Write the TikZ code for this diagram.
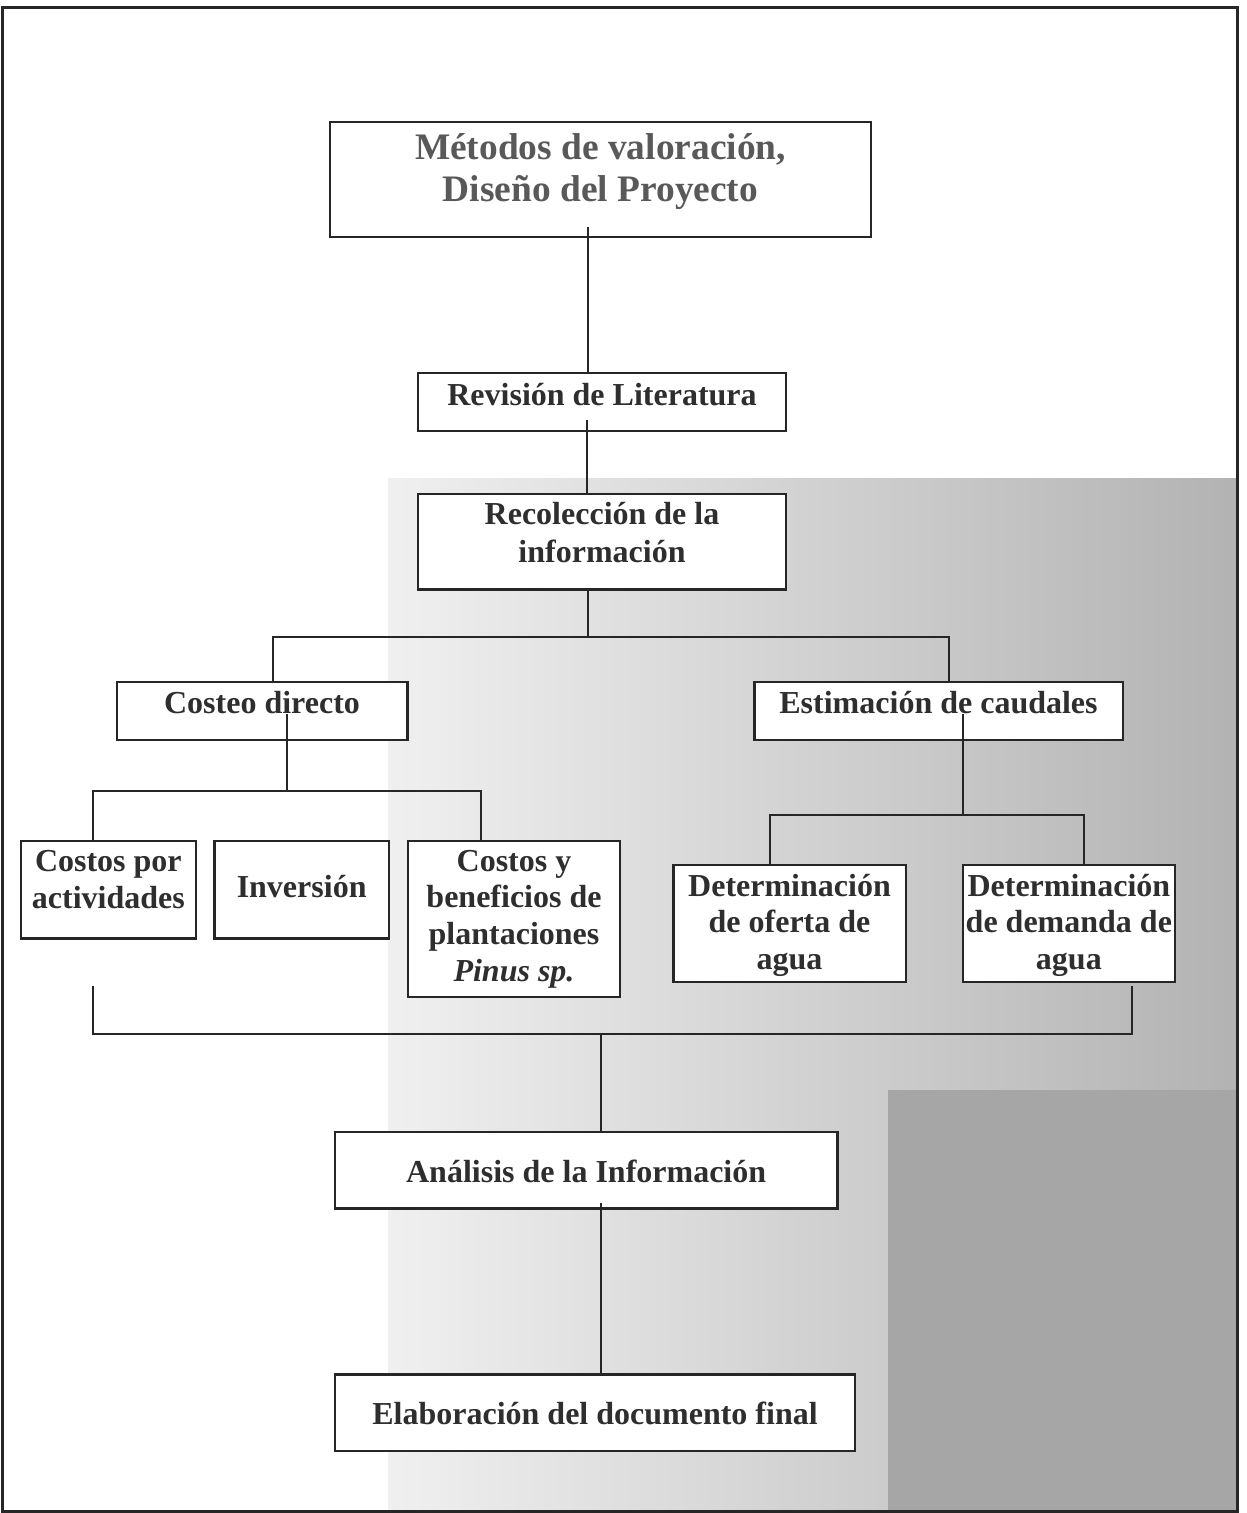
\documentclass[tikz,border=0pt]{standalone}
\usepackage{fontspec}
\setmainfont{Liberation Serif}
\newcommand\TS[1]{\rule{0pt}{#1}}
\newcommand\BS[1]{\rule[-#1]{0pt}{#1}}
\begin{document}
\begin{tikzpicture}[x=0.5pt,y=-0.5pt,
  box/.style={draw=black!85, line width=1.2pt, fill=white, anchor=north,
    inner xsep=0pt, inner ysep=0pt, align=center, text=black!82,
    font=\fontsize{16}{18.3}\selectfont\bfseries},
  conn/.style={draw=black!85, line width=1pt},
  pageframe/.style={draw=black!85, line width=1.5pt}]
\useasboundingbox (0,0) rectangle (1246,1513);
% scan shading
\shade[left color=black!6, right color=black!30] (388,478) rectangle (1237,1511);
\fill[black!35] (888,1090) rectangle (1237,1511);
\draw[pageframe] (2,8) rectangle (1237,1511);

% boxes
\node[box, minimum width=270.5pt, text=black!65,
  font=\fontsize{18.7}{20.85}\selectfont\bfseries] (met) at (600.5,121)
  {\TS{18.65pt}Métodos de valoración,\\Diseño del Proyecto\BS{18pt}};
\node[box, minimum width=184pt] (rev) at (602,372)
  {\TS{16pt}Revisión de Literatura\BS{13pt}};
\node[box, minimum width=184pt, font=\fontsize{16}{19.2}\selectfont\bfseries] (rec) at (602,492.7)
  {\TS{15.3pt}Recolección de la\\información\BS{13.3pt}};
\node[box, minimum width=145.3pt] (cos) at (262,681)
  {\TS{15.85pt}Costeo directo\BS{13.15pt}};
\node[box, minimum width=184.2pt] (est) at (938.5,681)
  {\TS{15.85pt}Estimación de caudales\BS{13.15pt}};
\node[box, minimum width=87.35pt] (cpa) at (108.35,840)
  {\TS{15.35pt}Costos por\\actividades\BS{15pt}};
\node[box, minimum width=87.35pt] (inv) at (301.65,840)
  {\TS{28pt}Inversión\BS{20.65pt}};
\node[box, minimum width=106pt] (cyb) at (514,840)
  {\TS{15pt}Costos y\\beneficios de\\plantaciones\\\textit{Pinus sp.}\BS{8pt}};
\node[box, minimum width=116.2pt] (dof) at (789.5,864)
  {\TS{15.5pt}Determinación\\de oferta de\\agua\BS{6.35pt}};
\node[box, minimum width=106.15pt] (ddm) at (1068.85,864)
  {\TS{15.5pt}Determinación\\de demanda de\\agua\BS{6.35pt}};
\node[box, minimum width=251.15pt] (ana) at (586.15,1131)
  {\TS{25pt}Análisis de la Información\BS{13.15pt}};
\node[box, minimum width=260pt] (ela) at (595,1373.3)
  {\TS{25pt}Elaboración del documento final\BS{13.35pt}};

% connectors
\coordinate (cm) at (587.7,226.7);
\draw[conn] (cm) -- (cm |- rev.north);
\coordinate (cr) at (587.3,420);
\draw[conn] (cr) -- (cr |- rec.north);
\coordinate (br) at (587.5,637.3);
\coordinate (b1) at (273.3,637.3);
\coordinate (b2) at (949.3,637.3);
\draw[conn] (br |- rec.south) -- (br);
\draw[conn] (b1 |- cos.north) -- (b1) -- (b2) -- (b2 |- est.north);

\coordinate (cs) at (287.3,714);
\coordinate (s1) at (93.3,791);
\coordinate (s2) at (480.7,791);
\draw[conn] (cs) -- (cs |- s1);
\draw[conn] (s1 |- cpa.north) -- (s1) -- (s2) -- (s2 |- cyb.north);

\coordinate (es) at (963.3,714);
\coordinate (t1) at (770,815);
\coordinate (t2) at (1084,815);
\draw[conn] (es) -- (es |- t1);
\draw[conn] (t1 |- dof.north) -- (t1) -- (t2) -- (t2 |- ddm.north);

\coordinate (u1) at (93.3,986);
\coordinate (u2) at (1132.3,986);
\coordinate (um) at (601,1034);
\draw[conn] (u1) -- (u1 |- um) -- (u2 |- um) -- (u2);
\draw[conn] (um) -- (um |- ana.north);

\coordinate (a1) at (601,1202.7);
\draw[conn] (a1) -- (a1 |- ela.north);
\end{tikzpicture}
\end{document}
